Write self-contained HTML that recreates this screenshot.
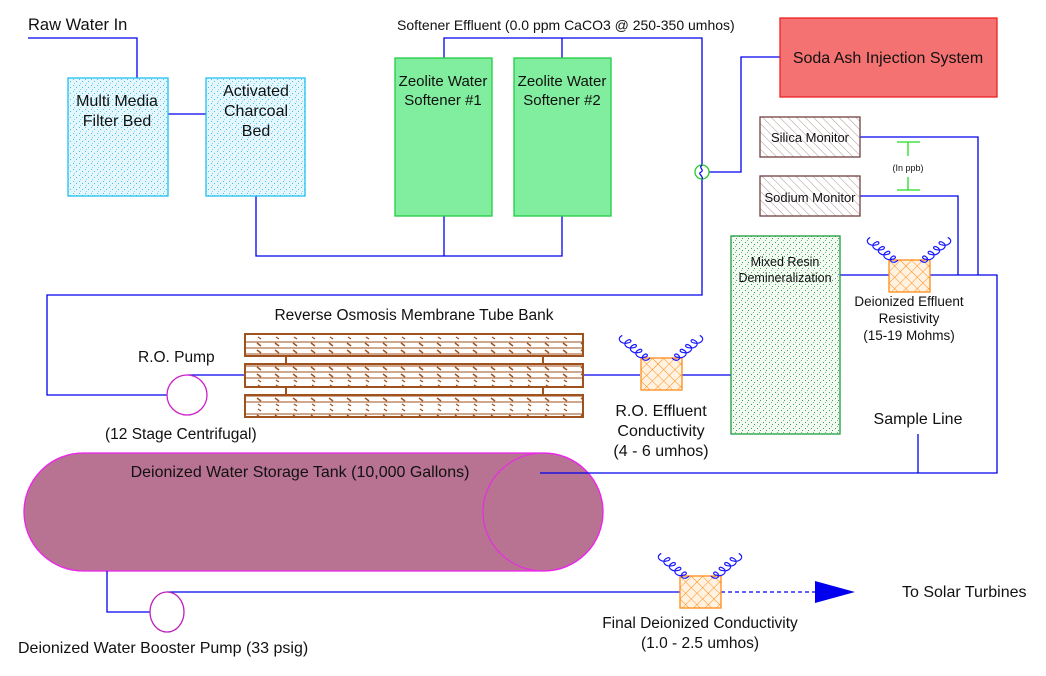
<!DOCTYPE html>
<html><head><meta charset="utf-8"><style>
html,body{margin:0;padding:0;background:#fff}
svg{display:block}
text{font-family:"Liberation Sans",sans-serif;fill:#111}
</style></head><body>
<svg width="1046" height="676" viewBox="0 0 1046 676" xmlns="http://www.w3.org/2000/svg">
<defs>
<pattern id="dotsB" width="6" height="6" patternUnits="userSpaceOnUse">
<rect width="6" height="6" fill="#e4f7fd"/>
<rect x="1" y="1" width="1" height="1" fill="#4cc0ee"/><rect x="4" y="3" width="1" height="1" fill="#4cc0ee"/><rect x="2" y="5" width="1" height="1" fill="#7fd3f3"/>
</pattern>
<pattern id="dotsG" width="6" height="6" patternUnits="userSpaceOnUse">
<rect width="6" height="6" fill="#f2faf2"/>
<rect x="1" y="2" width="1" height="1" fill="#3aa050"/><rect x="4" y="4" width="1" height="1" fill="#3aa050"/><rect x="3" y="0" width="1" height="1" fill="#6cc07a"/>
</pattern>
<pattern id="hatchM" width="6" height="6" patternUnits="userSpaceOnUse" patternTransform="rotate(-45)">
<rect width="6" height="6" fill="#fff"/><line x1="0" y1="0" x2="0" y2="6" stroke="#b09090" stroke-width="1"/>
</pattern>
<pattern id="xhatch" width="8" height="8" patternUnits="userSpaceOnUse" patternTransform="rotate(45)">
<rect width="8" height="8" fill="#fff2e0"/><line x1="0" y1="0" x2="0" y2="8" stroke="#ff8c1a" stroke-width="1"/><line x1="0" y1="0" x2="8" y2="0" stroke="#ff8c1a" stroke-width="1"/>
</pattern>
<pattern id="tube" width="18" height="24" patternUnits="userSpaceOnUse">
<rect width="18" height="24" fill="#fff"/>
<line x1="0" y1="6" x2="18" y2="6" stroke="#a0521e"/><line x1="0" y1="12" x2="18" y2="12" stroke="#a0521e"/><line x1="0" y1="18" x2="18" y2="18" stroke="#a0521e"/>
<line x1="5" y1="7" x2="9" y2="10" stroke="#a0521e" stroke-width="1.5"/><line x1="5" y1="14" x2="9" y2="17" stroke="#a0521e" stroke-width="1.5"/>
<line x1="6" y1="1" x2="9" y2="3" stroke="#a0521e" stroke-width="1.3"/><line x1="6" y1="20" x2="9" y2="22" stroke="#a0521e" stroke-width="1.3"/>
</pattern>
<g id="coil"><path d="M0,0 c-2,-7 6,-9 6,-3 c0,4 -5,3 -2,-2 c2,-6 10,-7 9,0 c0,4 -5,3 -2,-2 c2,-6 10,-7 9,0 c0,4 -5,3 -2,-2 c2,-6 10,-7 9,0 c0,4 -5,3 -2,-2 c2,-6 10,-7 9,0" fill="none" stroke="#1a1aff" stroke-width="1.2"/></g>
<g id="sensor">
<rect x="0" y="0" width="41" height="32" fill="url(#xhatch)" stroke="#ff8c1a" stroke-width="1.3"/>
<use href="#coil" transform="translate(9,0) rotate(-123)"/>
<use href="#coil" transform="translate(31,0) rotate(-57) scale(1,-1)"/>
</g>
</defs>

<rect x="24" y="453" width="579" height="118" rx="59" ry="59" fill="#b87292" stroke="#ee22ee" stroke-width="1.3"/>
<ellipse cx="543" cy="512" rx="60" ry="59" fill="none" stroke="#ee22ee" stroke-width="1"/>

<g stroke="#0000ee" stroke-width="1.3" fill="none">
<polyline points="28,38 137,38 137,78"/>
<line x1="168" y1="114" x2="206" y2="114"/>
<polyline points="256,196 256,256 562,256 562,216"/>
<line x1="444" y1="256" x2="444" y2="216"/>
<polyline points="444,58 444,38 702,38 702,295 47,295 47,395 167,395"/>
<line x1="562" y1="38" x2="562" y2="58"/>
<polyline points="709,172 741,172 741,57 780,57"/>
<line x1="187" y1="375" x2="245" y2="375"/>
<line x1="583" y1="375" x2="640" y2="375"/>
<line x1="682" y1="375" x2="731" y2="375"/>
<line x1="840" y1="275" x2="889" y2="275"/>
<polyline points="929,275 997,275 997,473 540,473"/>
<polyline points="958,275 958,196 860,196"/>
<polyline points="978,275 978,137 860,137"/>
<line x1="918" y1="434" x2="918" y2="473"/>
<polyline points="107,571 107,612 150,612"/>
<line x1="167" y1="592" x2="680" y2="592"/>
<line x1="721" y1="592" x2="815" y2="592" stroke-dasharray="4,3"/>
</g>
<polygon points="815,581 855,592 815,603" fill="#0000ee"/>
<text x="300" y="477" font-size="16" text-anchor="middle">Deionized Water Storage Tank (10,000 Gallons)</text>

<text x="28" y="30" font-size="16.5">Raw  Water In</text>
<rect x="68" y="78" width="100" height="118" fill="url(#dotsB)" stroke="#1ec0f0" stroke-width="1.3"/>
<text x="117" y="106" font-size="16" text-anchor="middle">Multi Media</text>
<text x="117" y="126" font-size="16" text-anchor="middle">Filter Bed</text>
<rect x="206" y="78" width="99" height="118" fill="url(#dotsB)" stroke="#1ec0f0" stroke-width="1.3"/>
<text x="256" y="96" font-size="16" text-anchor="middle">Activated</text>
<text x="256" y="116" font-size="16" text-anchor="middle">Charcoal</text>
<text x="256" y="136" font-size="16" text-anchor="middle">Bed</text>

<text x="397" y="30" font-size="14">Softener Effluent (0.0 ppm  CaCO3 @ 250-350 umhos)</text>
<rect x="395" y="58" width="97" height="158" fill="#80ee9e" stroke="#22cc44" stroke-width="1.3"/>
<text x="443" y="86" font-size="15" text-anchor="middle">Zeolite Water</text>
<text x="443" y="105" font-size="15" text-anchor="middle">Softener #1</text>
<rect x="514" y="58" width="97" height="158" fill="#80ee9e" stroke="#22cc44" stroke-width="1.3"/>
<text x="562" y="86" font-size="15" text-anchor="middle">Zeolite Water</text>
<text x="562" y="105" font-size="15" text-anchor="middle">Softener #2</text>

<circle cx="702" cy="172" r="7" fill="#fff" stroke="#22cc22" stroke-width="1.3"/>
<path d="M702,165 c-4,3 3,5 -1,7 c-4,2 3,4 1,7" fill="none" stroke="#0000ee" stroke-width="1.2"/>

<rect x="780" y="18" width="217" height="79" fill="#f47272" stroke="#ee2222" stroke-width="1.3"/>
<text x="888" y="63" font-size="16" text-anchor="middle">Soda Ash Injection System</text>

<rect x="760" y="117" width="100" height="40" fill="url(#hatchM)" stroke="#704040" stroke-width="1.3"/>
<text x="810" y="142" font-size="13" text-anchor="middle">Silica Monitor</text>
<rect x="760" y="176" width="100" height="40" fill="url(#hatchM)" stroke="#704040" stroke-width="1.3"/>
<text x="810" y="202" font-size="13" text-anchor="middle">Sodium Monitor</text>
<g stroke="#22dd22" stroke-width="1.3"><line x1="897" y1="142" x2="920" y2="142"/><line x1="908" y1="142" x2="908" y2="156"/><line x1="908" y1="177" x2="908" y2="190"/><line x1="897" y1="190" x2="920" y2="190"/></g>
<text x="908" y="171" font-size="9" text-anchor="middle">(In ppb)</text>

<rect x="731" y="236" width="109" height="198" fill="url(#dotsG)" stroke="#1a9a3a" stroke-width="1.3"/>
<text x="785" y="266" font-size="12.5" text-anchor="middle">Mixed Resin</text>
<text x="785" y="282" font-size="12.5" text-anchor="middle">Demineralization</text>

<use href="#sensor" x="889" y="260"/>
<text x="909" y="306" font-size="13.5" text-anchor="middle">Deionized Effluent</text>
<text x="909" y="323" font-size="13.5" text-anchor="middle">Resistivity</text>
<text x="909" y="340" font-size="13.5" text-anchor="middle">(15-19 Mohms)</text>
<text x="918" y="424" font-size="16" text-anchor="middle">Sample Line</text>

<text x="414" y="320" font-size="15.5" text-anchor="middle">Reverse Osmosis Membrane Tube Bank</text>
<g stroke="#a0521e" stroke-width="2">
<line x1="286" y1="357" x2="286" y2="364"/><line x1="543" y1="357" x2="543" y2="364"/>
<line x1="286" y1="387" x2="286" y2="395"/><line x1="543" y1="387" x2="543" y2="395"/>
<rect x="245" y="334" width="338" height="22" fill="url(#tube)"/>
<rect x="245" y="364" width="338" height="23" fill="url(#tube)"/>
<rect x="245" y="395" width="338" height="22" fill="url(#tube)"/>
</g>

<circle cx="187" cy="395" r="20" fill="#fff" stroke="#cc22cc" stroke-width="1.3"/>
<text x="138" y="362" font-size="15.5">R.O. Pump</text>
<text x="105" y="439" font-size="15.5">(12 Stage Centrifugal)</text>

<use href="#sensor" x="641" y="358"/>
<text x="661" y="416" font-size="16" text-anchor="middle">R.O. Effluent</text>
<text x="661" y="436" font-size="16" text-anchor="middle">Conductivity</text>
<text x="661" y="456" font-size="16" text-anchor="middle">(4 - 6 umhos)</text>

<ellipse cx="167" cy="612" rx="17" ry="20" fill="#fff" stroke="#bb22bb" stroke-width="1.3"/>
<text x="18" y="653" font-size="16">Deionized Water Booster Pump (33 psig)</text>

<use href="#sensor" x="680" y="576"/>
<text x="700" y="628" font-size="15.5" text-anchor="middle">Final Deionized Conductivity</text>
<text x="700" y="648" font-size="15.5" text-anchor="middle">(1.0 - 2.5 umhos)</text>
<text x="902" y="597" font-size="16">To Solar Turbines</text>
</svg>
</body></html>
